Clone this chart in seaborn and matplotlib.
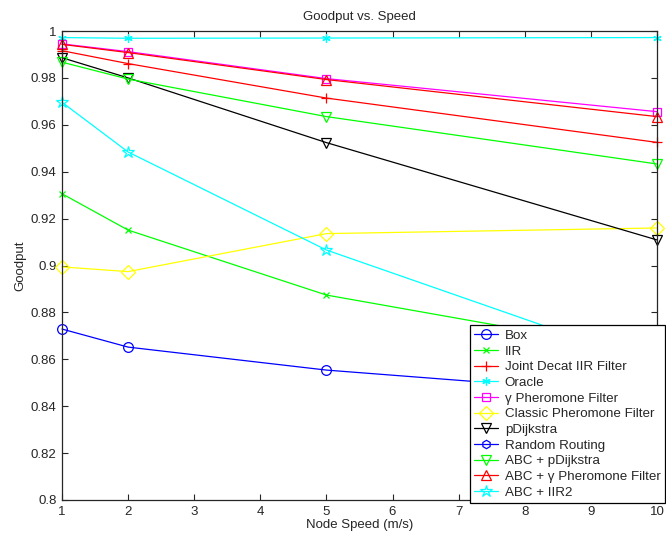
import matplotlib
matplotlib.use("Agg")
import matplotlib.pyplot as plt
import seaborn as sns
import pandas as pd

speeds = [1, 2, 5, 10]
box = [0.8729, 0.8652, 0.8554, 0.8445]
iir = [0.9306, 0.9151, 0.8874, 0.8624]
joint_decat = [0.9916, 0.9861, 0.9714, 0.9525]
oracle = [0.9972, 0.9969, 0.9970, 0.9972]
gamma_pher = [0.9945, 0.9912, 0.9797, 0.9656]
classic_pher = [0.8994, 0.8974, 0.9136, 0.9160]
pdijkstra = [0.9886, 0.9800, 0.9524, 0.9109]
random_routing = [0.70, 0.69, 0.68, 0.67]
abc_pdijkstra = [0.9867, 0.9795, 0.9635, 0.9433]
abc_gamma = [0.9943, 0.9908, 0.9793, 0.9635]
abc_iir2 = [0.9696, 0.9484, 0.9066, 0.8575]

names = ["Box", "IIR", "Joint Decat IIR Filter", "Oracle", "γ Pheromone Filter",
         "Classic Pheromone Filter", "pDijkstra", "Random Routing", "ABC + pDijkstra",
         "ABC + γ Pheromone Filter", "ABC + IIR2"]
series = [box, iir, joint_decat, oracle, gamma_pher, classic_pher, pdijkstra,
          random_routing, abc_pdijkstra, abc_gamma, abc_iir2]
colors = ["#0000ff", "#00ff00", "#ff0000", "#00ffff", "#ff00ff", "#ffff00", "#000000",
          "#0000ff", "#00ff00", "#ff0000", "#00ffff"]
markers = ["o", "x", "+", (6, 2, 0), "s", "D", "v", "h", "v", "^", "*"]
msizes = [7, 5, 7, 6, 6, 7, 7, 6, 7, 7, 9]

sns.set_style("ticks")
plt.rcParams["font.family"] = ["Liberation Sans", "DejaVu Sans"]
FS = 9.5

fig = plt.figure(figsize=(6.66, 5.35), dpi=100)
ax = fig.add_axes([62 / 666, 1 - 500 / 535, (657 - 62) / 666, (500 - 31) / 535])

for name, vals, c, m, ms in zip(names, series, colors, markers, msizes):
    df = pd.DataFrame({"speed": speeds, "goodput": vals})
    sns.lineplot(data=df, x="speed", y="goodput", ax=ax, color=c, marker=m,
                 markersize=ms, markerfacecolor="none", markeredgecolor=c,
                 markeredgewidth=0.9, linewidth=0.9, label=name,
                 clip_on=(name == "Random Routing"))

ax.set_xlim(1, 10)
ax.set_ylim(0.8, 1.0)
ax.set_xticks(range(1, 11))
ax.set_yticks([0.8, 0.82, 0.84, 0.86, 0.88, 0.9, 0.92, 0.94, 0.96, 0.98, 1.0])
ax.set_yticklabels(["0.8", "0.82", "0.84", "0.86", "0.88", "0.9", "0.92", "0.94",
                    "0.96", "0.98", "1"])
ax.tick_params(direction="in", top=True, right=True, labelsize=FS, length=4, width=0.8,
               pad=4)
for s in ax.spines.values():
    s.set_visible(True)
    s.set_linewidth(0.9)
ax.set_xlabel("Node Speed (m/s)", fontsize=FS, labelpad=1)
ax.set_ylabel("Goodput", fontsize=FS, labelpad=3)
ax.set_title("Goodput vs. Speed", fontsize=FS, pad=8)

leg = ax.legend(loc="lower right", bbox_to_anchor=(665 / 666, 1 - 503 / 535),
                bbox_transform=fig.transFigure, fontsize=9.6, frameon=True, fancybox=False,
                edgecolor="black", framealpha=1, borderpad=0.32, labelspacing=0.25,
                handlelength=1.75, handletextpad=0.55, borderaxespad=0)
leg.get_frame().set_linewidth(0.9)
leg.set_zorder(10)

fig.savefig("out.png", dpi=100)
